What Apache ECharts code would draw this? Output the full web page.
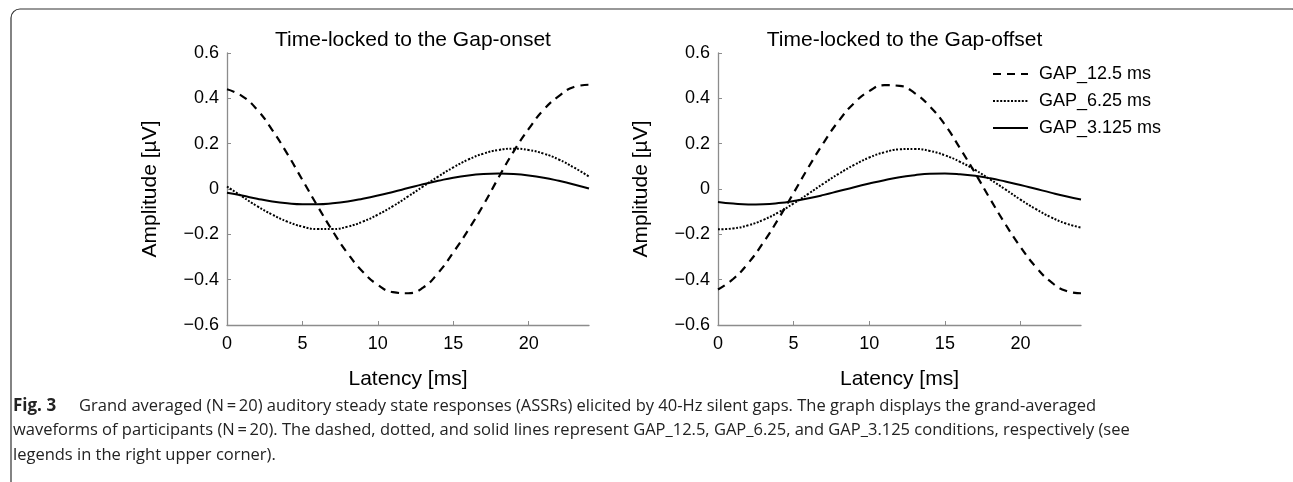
<!DOCTYPE html>
<html>
<head>
<meta charset="utf-8">
<script src="https://cdn.jsdelivr.net/npm/echarts@6/dist/echarts.min.js"></script>
<style>
html,body{margin:0;padding:0;background:#fff;}
#chart{width:1293px;height:482px;}
</style>
</head>
<body>
<div id="chart"></div>
<script>
// ---- data ----
const latency = [0,1,2,3,4,5,6,7,8,9,10,11,12,13,14,15,16,17,18,19,20,21,22,23,24];
const seriesNames = ['GAP_12.5 ms', 'GAP_6.25 ms', 'GAP_3.125 ms'];
const xTicks = [0, 5, 10, 15, 20];

// Time-locked to the Gap-onset
const onset_12_5 = [0.44,0.41,0.35,0.26,0.155,0.04,-0.075,-0.185,-0.284,-0.365,-0.423,-0.455,-0.46,-0.435,-0.37,-0.28,-0.18,-0.07,0.05,0.165,0.265,0.35,0.41,0.45,0.46];
const onset_6_25 = [0.011,-0.033,-0.076,-0.113,-0.144,-0.166,-0.177,-0.177,-0.166,-0.144,-0.113,-0.076,-0.033,0.011,0.055,0.095,0.13,0.156,0.172,0.178,0.172,0.156,0.13,0.095,0.055];
const onset_3_125 = [-0.017,-0.029,-0.043,-0.055,-0.063,-0.067,-0.067,-0.063,-0.055,-0.043,-0.029,-0.013,0.004,0.021,0.036,0.05,0.06,0.066,0.068,0.066,0.06,0.05,0.036,0.02,0.002];

// Time-locked to the Gap-offset
const offset_12_5 = [-0.443,-0.397,-0.327,-0.236,-0.131,-0.017,0.098,0.206,0.302,0.379,0.432,0.458,0.455,0.423,0.365,0.284,0.18,0.07,-0.045,-0.155,-0.256,-0.343,-0.409,-0.449,-0.46];
const offset_6_25 = [-0.178,-0.174,-0.16,-0.136,-0.103,-0.064,-0.02,0.025,0.068,0.106,0.139,0.162,0.175,0.177,0.168,0.149,0.12,0.084,0.042,-0.002,-0.047,-0.088,-0.124,-0.152,-0.17];
const offset_3_125 = [-0.057,-0.064,-0.068,-0.067,-0.062,-0.053,-0.041,-0.026,-0.009,0.008,0.024,0.039,0.052,0.061,0.067,0.068,0.065,0.058,0.047,0.033,0.018,0.001,-0.016,-0.032,-0.046];

const titles = ['Time-locked to the Gap-onset', 'Time-locked to the Gap-offset'];
const xName = 'Latency [ms]';
const yName = 'Amplitude [µV]';
const captionBold = 'Fig. 3';
const captionLines = [
  'Grand averaged (N\u2009=\u200920) auditory steady state responses (ASSRs) elicited by 40-Hz silent gaps. The graph displays the grand-averaged',
  'waveforms of participants (N\u2009=\u200920). The dashed, dotted, and solid lines represent GAP_12.5, GAP_6.25, and GAP_3.125 conditions, respectively (see',
  'legends in the right upper corner).'
];

// ---- chart ----
const FONT = '"Liberation Sans", Arial, sans-serif';
const CAPFONT = '"Open Sans", "Noto Sans", sans-serif';
const lineStyles = [
  {color:'#000', width:2.2, type:[8,6]},
  {color:'#000', width:2, type:[2,1.6]},
  {color:'#000', width:2, type:'solid'}
];
const grids = [
  {left:227, top:53, width:362, height:272},
  {left:718, top:53, width:363, height:272}
];
function zip(ys){ return latency.map((x,i)=>[x, ys[i]]); }
const panelData = [[onset_12_5, onset_6_25, onset_3_125],[offset_12_5, offset_6_25, offset_3_125]];

const xAxes = grids.map((g,i)=>({
  gridIndex:i, type:'value', min:0, max:24, interval:5,
  name:xName, nameLocation:'middle', nameGap:44,
  nameTextStyle:{fontFamily:FONT, fontSize:21, color:'#000'},
  axisLine:{show:true, onZero:false, lineStyle:{color:'#8c8c8c', width:1.3}},
  axisTick:{show:true, inside:true, length:4, lineStyle:{color:'#8c8c8c'}, customValues:xTicks},
  axisLabel:{fontFamily:FONT, fontSize:18, color:'#000', margin:10, customValues:xTicks},
  splitLine:{show:false}
}));
const yAxes = grids.map((g,i)=>({
  gridIndex:i, type:'value', min:-0.6, max:0.6, interval:0.2,
  name:yName, nameLocation:'middle', nameGap:66,
  nameTextStyle:{fontFamily:FONT, fontSize:21, color:'#000'},
  axisLine:{show:true, onZero:false, lineStyle:{color:'#8c8c8c', width:1.3}},
  axisTick:{show:true, inside:true, length:4, lineStyle:{color:'#8c8c8c'}},
  axisLabel:{fontFamily:FONT, fontSize:18, color:'#000', margin:8,
    formatter:v=>{ const r = Math.round(v*10)/10; if (r===0) return '0'; return (r<0?'\u2212':'') + Math.abs(r).toFixed(1); }},
  splitLine:{show:false}
}));
const series = [];
panelData.forEach((arrs,pi)=>{
  arrs.forEach((ys,si)=>{
    series.push({
      name:seriesNames[si], type:'line', xAxisIndex:pi, yAxisIndex:pi,
      data:zip(ys), smooth:true, showSymbol:false, symbol:'none',
      lineStyle:lineStyles[si], itemStyle:{color:'#000'}, z:3-si
    });
  });
});

const graphics = [
  {type:'rect', shape:{x:11, y:9, width:1290, height:520, r:9}, style:{fill:'none', stroke:'#333', lineWidth:1.2}, silent:true},
  {type:'text', left:13, top:398, style:{text:captionBold, font:'bold 17px '+CAPFONT, fill:'#222'}},
  {type:'text', left:79, top:398, style:{text:captionLines[0], font:'16.5px '+CAPFONT, fill:'#222'}},
  {type:'text', left:13, top:422, style:{text:captionLines[1], font:'16.5px '+CAPFONT, fill:'#222'}},
  {type:'text', left:13, top:447, style:{text:captionLines[2], font:'16.5px '+CAPFONT, fill:'#222'}}
];

const chart = echarts.init(document.getElementById('chart'), null, {renderer:'canvas'});
chart.setOption({
  animation:false,
  backgroundColor:'#fff',
  title: titles.map((t,i)=>({
    text:t, left: grids[i].left + grids[i].width/2, top:25, textAlign:'center',
    textStyle:{fontFamily:FONT, fontSize:21, fontWeight:'normal', color:'#000'}
  })),
  legend:{
    data:seriesNames, orient:'vertical', left:992, top:65, padding:0,
    itemWidth:35, itemHeight:14, itemGap:9,
    itemStyle:{opacity:0, borderWidth:0},
    textStyle:{fontFamily:FONT, fontSize:18, color:'#000', padding:[0,0,0,6]}
  },
  grid:grids,
  xAxis:xAxes,
  yAxis:yAxes,
  series:series,
  graphic:graphics
});
</script>
</body>
</html>
